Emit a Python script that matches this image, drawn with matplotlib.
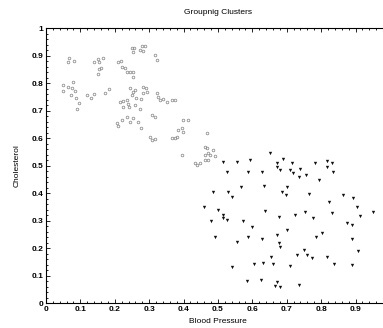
import matplotlib
matplotlib.use("Agg")
import matplotlib.pyplot as plt
import numpy as np
from matplotlib.ticker import MultipleLocator

plt.rcParams['font.family'] = ['Liberation Sans', 'DejaVu Sans']

# cluster 1 (open circles)
bp_c1 = [0.049, 0.064, 0.076, 0.078, 0.049, 0.084, 0.073, 0.087, 0.096, 0.090,
         0.067, 0.081, 0.064,
         0.140, 0.151, 0.154, 0.166,
         0.154, 0.160, 0.151,
         0.250, 0.256, 0.253, 0.279, 0.288, 0.273, 0.282,
         0.317, 0.323,
         0.209, 0.218,
         0.221, 0.230, 0.235, 0.244, 0.253, 0.253,
         0.119, 0.131, 0.140, 0.172, 0.183,
         0.244, 0.253, 0.259, 0.282, 0.291, 0.294, 0.282, 0.250, 0.262, 0.276,
         0.215, 0.224, 0.235, 0.238, 0.224, 0.241, 0.259, 0.273,
         0.323, 0.326, 0.331, 0.340, 0.352, 0.366, 0.375,
         0.308, 0.317,
         0.206, 0.209, 0.221, 0.235, 0.244, 0.253, 0.267, 0.276,
         0.398, 0.413,
         0.384, 0.395, 0.398, 0.381,
         0.302, 0.308, 0.317,
         0.366, 0.375,
         0.468, 0.462, 0.468, 0.471, 0.462, 0.477, 0.485, 0.491,
         0.395,
         0.433, 0.439, 0.448,
         0.462, 0.471]
chol_c1 = [0.793, 0.785, 0.782, 0.804, 0.771, 0.771, 0.756, 0.745, 0.727, 0.705,
           0.891, 0.880, 0.876,
           0.876, 0.887, 0.876, 0.891,
           0.851, 0.855, 0.833,
           0.927, 0.927, 0.913, 0.935, 0.935, 0.920, 0.916,
           0.902, 0.884,
           0.876, 0.880,
           0.858, 0.855, 0.840, 0.840, 0.840, 0.822,
           0.756, 0.745, 0.760, 0.764, 0.778,
           0.782, 0.767, 0.775, 0.785, 0.782, 0.767, 0.764, 0.756, 0.745, 0.742,
           0.731, 0.735, 0.738, 0.724, 0.713, 0.713, 0.720, 0.705,
           0.764, 0.749, 0.738, 0.742, 0.731, 0.738, 0.738,
           0.684, 0.676,
           0.655, 0.644, 0.665, 0.676, 0.658, 0.673, 0.658, 0.636,
           0.665, 0.665,
           0.629, 0.636, 0.622, 0.604,
           0.604, 0.593, 0.596,
           0.600, 0.600,
           0.618, 0.567, 0.564, 0.545, 0.538, 0.538, 0.556, 0.535,
           0.538,
           0.509, 0.502, 0.509,
           0.520, 0.520]

# cluster 2 (filled triangles)
bp_c2 = [0.651, 0.689, 0.515, 0.555, 0.593, 0.672, 0.672, 0.715, 0.782, 0.817, 0.831,
         0.526, 0.587, 0.628, 0.680, 0.709, 0.718, 0.738, 0.735, 0.756, 0.817, 0.834, 0.794,
         0.567, 0.634, 0.701, 0.686, 0.698, 0.485, 0.529, 0.541, 0.765, 0.863, 0.892, 0.823,
         0.459, 0.500, 0.637, 0.904, 0.951, 0.515, 0.515, 0.526, 0.677, 0.724, 0.753, 0.776, 0.831, 0.913,
         0.480, 0.573, 0.599, 0.875, 0.890, 0.701,
         0.491, 0.555, 0.587, 0.628, 0.672, 0.677, 0.680, 0.785, 0.802, 0.890,
         0.750, 0.759, 0.773, 0.730, 0.654, 0.631, 0.660, 0.605, 0.541, 0.709, 0.817, 0.837, 0.890, 0.907,
         0.584, 0.625, 0.672, 0.666, 0.680, 0.735]
chol_c2 = [0.545, 0.524, 0.513, 0.513, 0.520, 0.509, 0.495, 0.509, 0.509, 0.516, 0.509,
           0.476, 0.476, 0.476, 0.484, 0.484, 0.473, 0.487, 0.458, 0.465, 0.495, 0.476, 0.447,
           0.422, 0.425, 0.422, 0.404, 0.393, 0.404, 0.404, 0.385, 0.396, 0.393, 0.382, 0.367,
           0.349, 0.338, 0.335, 0.349, 0.331, 0.320, 0.309, 0.302, 0.313, 0.320, 0.331, 0.309, 0.327, 0.316,
           0.298, 0.298, 0.276, 0.291, 0.284, 0.265,
           0.240, 0.222, 0.240, 0.233, 0.247, 0.218, 0.204, 0.240, 0.255, 0.233,
           0.193, 0.175, 0.164, 0.175, 0.167, 0.145, 0.142, 0.142, 0.131, 0.135, 0.167, 0.142, 0.138, 0.189,
           0.080, 0.084, 0.076, 0.062, 0.058, 0.065]

fig = plt.figure(figsize=(3.83, 3.28), dpi=100)
ax = fig.add_axes([0.120, 0.0762, 0.898, 0.838])

ax.plot(bp_c1, chol_c1, 'o', markersize=1.9, markerfacecolor='none',
        markeredgecolor='#8a8a8a', markeredgewidth=0.55)
ax.plot(bp_c2, chol_c2, 'v', markersize=2.4, color='#111111', markeredgewidth=0)

ax.set_xlim(0, 1)
ax.set_ylim(0, 1)
ax.set_xticks(np.arange(0, 1.0, 0.1))
ax.set_yticks(np.arange(0, 1.01, 0.1))
ax.set_xticklabels(['0', '0.1', '0.2', '0.3', '0.4', '0.5', '0.6', '0.7', '0.8', '0.9'])
ax.set_yticklabels(['0', '0.1', '0.2', '0.3', '0.4', '0.5', '0.6', '0.7', '0.8', '0.9', '1'])
ax.xaxis.set_minor_locator(MultipleLocator(0.02))
ax.yaxis.set_minor_locator(MultipleLocator(0.02))
ax.tick_params(which='both', direction='in', top=True, right=True, labelsize=6, pad=2, width=0.6)
ax.tick_params(which='major', length=3)
ax.tick_params(which='minor', length=1.2)
for lbl in ax.get_xticklabels() + ax.get_yticklabels():
    lbl.set_fontweight('bold')
for s in ax.spines.values():
    s.set_linewidth(0.8)

ax.set_title('Groupnig Clusters', fontsize=6, pad=10)
ax.set_xlabel('Blood Pressure', fontsize=6, labelpad=4)
ax.set_ylabel('Cholesterol', fontsize=6, labelpad=8)

fig.savefig('out.png', dpi=100)
